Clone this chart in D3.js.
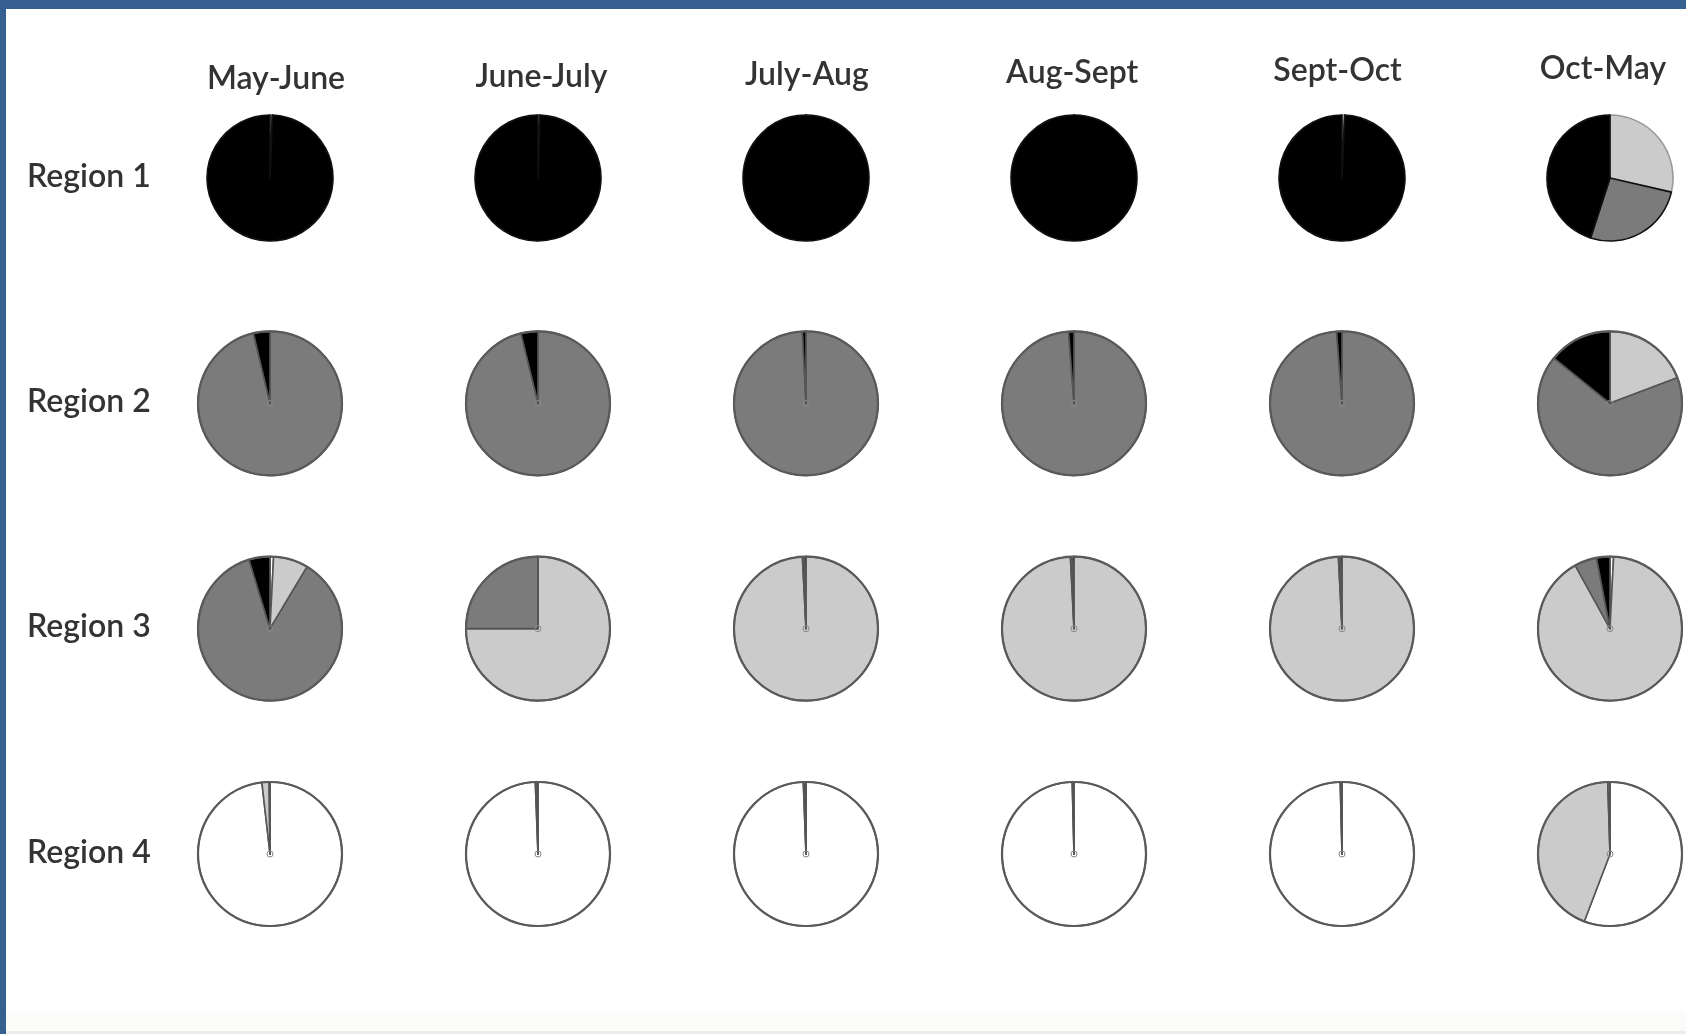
<!DOCTYPE html>
<html>
<head>
<meta charset="utf-8">
<script src="https://cdn.jsdelivr.net/npm/d3@7"></script>
<style>
  html, body { margin: 0; padding: 0; background: #fff; }
  svg { display: block; }
</style>
</head>
<body>
<svg id="chart" width="1686" height="1034"></svg>
<script>
// ---- data ----
const periods = ["May-June", "June-July", "July-Aug", "Aug-Sept", "Sept-Oct", "Oct-May"];
const regions = ["Region 1", "Region 2", "Region 3", "Region 4"];
// slice categories, drawn clockwise from 12 o'clock in this order
const categories = ["white", "light", "dark", "black"];
// percentages per period, [white, light, dark, black]
const region1 = [[0, 0.6, 0, 99.4], [0, 0.5, 0, 99.5], [0, 0, 0, 100], [0, 0, 0, 100], [0, 0.7, 0, 99.3], [0, 28.6, 26.4, 45.0]];
const region2 = [[0, 0, 96.3, 3.7], [0, 0, 96.2, 3.8], [0, 0, 99.2, 0.8], [0, 0, 98.8, 1.2], [0, 0, 98.8, 1.2], [0, 19.2, 66.6, 14.2]];
const region3 = [[0.8, 7.8, 86.7, 4.7], [0, 75.0, 25.0, 0], [0, 99.2, 0.4, 0.4], [0, 99.2, 0.4, 0.4], [0, 99.2, 0.4, 0.4], [0.8, 91.2, 5.0, 3.0]];
const region4 = [[98.2, 1.6, 0.2, 0], [99.4, 0.3, 0.3, 0], [99.4, 0.3, 0.3, 0], [99.6, 0.2, 0.2, 0], [99.6, 0.2, 0.2, 0], [55.8, 43.7, 0.5, 0]];
const regionValues = [region1, region2, region3, region4];

// ---- layout ----
const W = 1686, H = 1034;
const svg = d3.select("#chart");

const color = d3.scaleOrdinal().domain(categories).range(["#ffffff", "#cbcbcb", "#7b7b7b", "#000000"]);
const x = d3.scalePoint().domain(periods).range([270, 1610]);
const xLabel = d3.scalePoint().domain(periods).range([276, 1603]);
const y = d3.scalePoint().domain(regions).range([178, 854]);
const radius = d3.scaleOrdinal().domain(regions).range([63, 72, 72, 72]);

// frame
svg.append("rect").attr("x", 0).attr("y", 0).attr("width", W).attr("height", H).attr("fill", "#fff");
svg.append("rect").attr("x", 0).attr("y", 1012).attr("width", W).attr("height", 22).attr("fill", "#fbfbf9");
svg.append("rect").attr("x", 0).attr("y", 1031).attr("width", W).attr("height", 3).attr("fill", "#ececea");
svg.append("rect").attr("x", 0).attr("y", 0).attr("width", W).attr("height", 9).attr("fill", "#36608f");
svg.append("rect").attr("x", 0).attr("y", 0).attr("width", 6).attr("height", H).attr("fill", "#36608f");

const g = svg.append("g").style("filter", "blur(0.6px)");

// column labels
const colIdx = d3.scaleLinear().domain([0, periods.length - 1]).range([89, 79]);
g.selectAll("text.col").data(periods).join("text")
  .attr("class", "col")
  .attr("x", d => xLabel(d))
  .attr("y", (d, i) => colIdx(i))
  .attr("text-anchor", "middle")
  .attr("font-family", "Lato, 'Open Sans', sans-serif")
  .attr("font-size", 32)
  .attr("font-weight", 600)
  .attr("fill", "#333")
  .text(d => d);

// row labels
g.selectAll("text.row").data(regions).join("text")
  .attr("class", "row")
  .attr("x", 27)
  .attr("y", d => y(d) - 4)
  .attr("dominant-baseline", "central")
  .attr("font-family", "Lato, 'Open Sans', sans-serif")
  .attr("font-size", 32)
  .attr("font-weight", 600)
  .attr("fill", "#333")
  .text(d => d);

// pies
const pie = d3.pie().sort(null).value(d => d.value);
regions.forEach((region, ri) => {
  periods.forEach((period, pi) => {
    const vals = regionValues[ri][pi].map((v, k) => ({ cat: categories[k], value: v }));
    const r = radius(region);
    const arc = d3.arc().innerRadius(0).outerRadius(r);
    const pg = g.append("g").attr("transform", `translate(${x(period)},${y(region)})`);
    const stroke = ri === 0 ? "#111" : "#555";
    pg.selectAll("path").data(pie(vals)).join("path")
      .attr("d", arc)
      .attr("fill", d => color(d.data.cat))
      .attr("stroke", d => (ri === 0 && d.data.cat === "light") ? "#999" : stroke)
      .attr("stroke-width", 1.6)
      .attr("stroke-linejoin", "round");
    if (ri > 0) {
      pg.append("circle").attr("r", r).attr("fill", "none").attr("stroke", "#5a5a5a").attr("stroke-width", 2.2);
      pg.append("circle").attr("r", 3).attr("fill", "none").attr("stroke", "#888").attr("stroke-width", 1);
    }
  });
});
</script>
</body>
</html>
